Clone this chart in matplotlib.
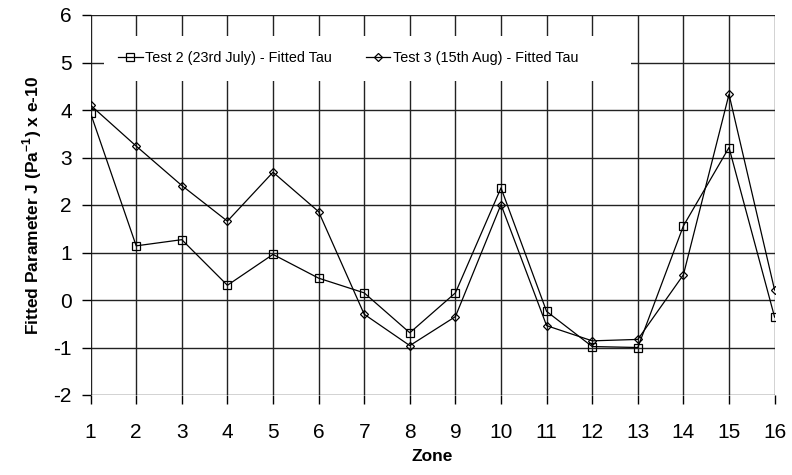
import matplotlib
matplotlib.use("Agg")
import matplotlib.pyplot as plt
from matplotlib.patches import Rectangle

plt.rcParams['font.family'] = ['Liberation Sans', 'DejaVu Sans']
plt.rcParams['mathtext.fontset'] = 'custom'
plt.rcParams['mathtext.rm'] = 'Liberation Sans'
plt.rcParams['mathtext.bf'] = 'Liberation Sans:bold'
plt.rcParams['axes.unicode_minus'] = False

zones = list(range(1, 17))
test2 = [3.93, 1.14, 1.27, 0.31, 0.96, 0.46, 0.15, -0.69, 0.15, 2.36, -0.24, -0.98, -1.00, 1.56, 3.21, -0.36]
test3 = [4.10, 3.24, 2.41, 1.66, 2.69, 1.86, -0.30, -0.96, -0.35, 2.01, -0.54, -0.86, -0.83, 0.53, 4.33, 0.21]
label2 = "Test 2 (23rd July) - Fitted Tau"
label3 = "Test 3 (15th Aug) - Fitted Tau"
yticks = list(range(-2, 7))

fig = plt.figure(figsize=(7.92, 4.75), dpi=100)
ax = fig.add_axes([90.6/792, 1-395/475, 684/792, 380/475])

ax.plot(zones, test2, color='black', lw=0.9, marker='s', markersize=5.5,
        markerfacecolor='none', markeredgecolor='black', markeredgewidth=0.9,
        label=label2, zorder=3)
ax.plot(zones, test3, color='black', lw=0.9, marker='D', markersize=4.5,
        markerfacecolor='none', markeredgecolor='black', markeredgewidth=0.9,
        label=label3, zorder=3)

ax.set_xlim(1, 16)
ax.set_ylim(-2, 6)
ax.set_xticks(zones)
ax.set_yticks(yticks)
ax.grid(True, color='#222222', lw=1.0, zorder=1)
ax.set_axisbelow(True)
for s in ax.spines.values():
    s.set_visible(False)
ax.tick_params(axis='both', direction='out', length=6.5, width=1.0, color='black',
               labelsize=15)
ax.tick_params(axis='x', pad=14)
ax.tick_params(axis='y', pad=7)

ax.set_xlabel("Zone", fontsize=12.5, fontweight='bold', labelpad=5)
ax.set_ylabel(r"Fitted Parameter J (Pa$^{\mathbf{-1}}$) x e-10", fontsize=12.5,
              fontweight='bold', labelpad=7)

# white legend area covering the grid
ax.add_patch(Rectangle((0.0196, 0.826), 0.771, 0.119, transform=ax.transAxes,
                       facecolor='white', edgecolor='none', zorder=2.5))
leg = ax.legend(loc='center left', bbox_to_anchor=(0.040, 0.886), ncol=2,
                frameon=False, fontsize=10.4, handlelength=1.7, handletextpad=0.2,
                columnspacing=2.3, borderpad=0, borderaxespad=0)
leg.set_zorder(4)

fig.savefig("out.png", dpi=100)
